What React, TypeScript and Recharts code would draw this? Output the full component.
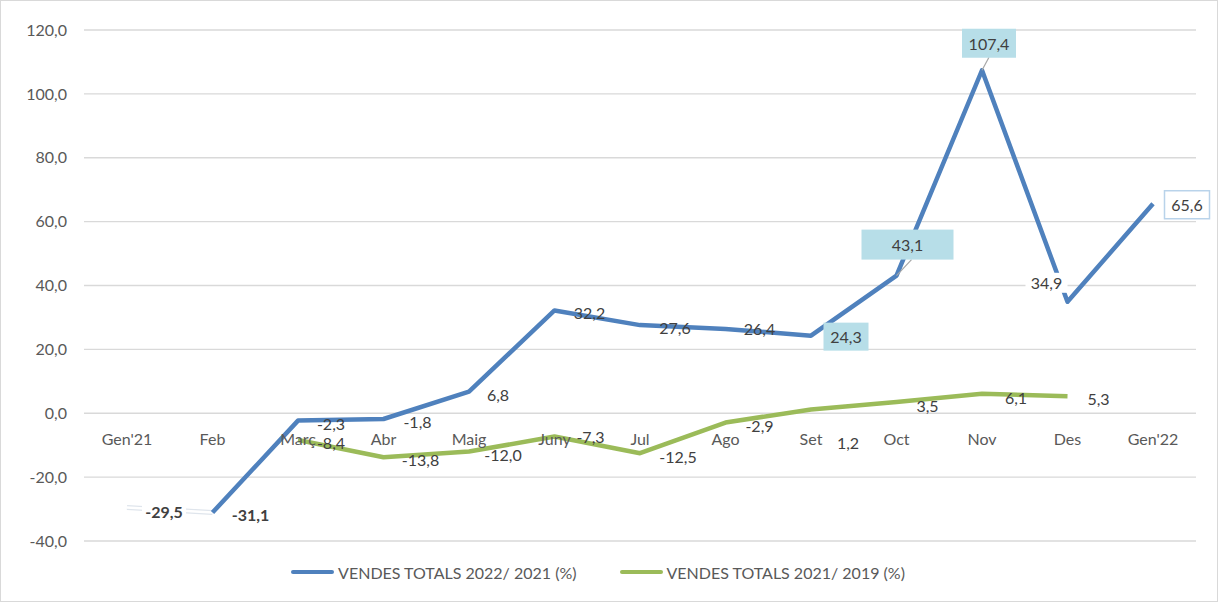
import React from 'react';
import { LineChart, Line, XAxis, YAxis, CartesianGrid, LabelList, Legend } from 'recharts';

const categories = ["Gen'21", 'Feb', 'Març', 'Abr', 'Maig', 'Juny', 'Jul', 'Ago', 'Set', 'Oct', 'Nov', 'Des', "Gen'22"];
const vendes2022vs2021: (number | null)[] = [-29.5, -31.1, -2.3, -1.8, 6.8, 32.2, 27.6, 26.4, 24.3, 43.1, 107.4, 34.9, 65.6];
const vendes2021vs2019: (number | null)[] = [null, null, -8.4, -13.8, -12.0, -7.3, -12.5, -2.9, 1.2, 3.5, 6.1, 5.3, null];
const yTicks = [-40, -20, 0, 20, 40, 60, 80, 100, 120];
const seriesNames = ['VENDES TOTALS 2022/ 2021 (%)', 'VENDES TOTALS 2021/ 2019 (%)'];

const BLUE = '#4f81bd';
const GREEN = '#9bbb59';
const FONT = 'Lato, "Open Sans", sans-serif';
const AXIS_TEXT = '#595959';
const LABEL_TEXT = '#404040';
const BOX_FILL = '#b7dee8';

const data = categories.map((cat, i) => ({
  cat,
  blue: i >= 1 ? vendes2022vs2021[i] : null,
  blueStart: i <= 1 ? vendes2022vs2021[i] : null,
  green: vendes2021vs2019[i],
  axis: 0,
}));

const fmt = (v: number) => v.toFixed(1).replace('.', ',');

type LabelLayout = {
  dx: number;
  dy: number;
  bold?: boolean;
  box?: 'fill' | 'outline' | 'white';
  w?: number;
  h?: number;
  leader?: [number, number];
} | null;

// label placement (style only, not data)
const blueStartLayout: LabelLayout[] = [{ dx: 37, dy: 4, bold: true, box: 'white', w: 44, h: 20 }, null];
const blueLayout: LabelLayout[] = [
  null,
  { dx: 38, dy: 2, bold: true },
  { dx: 33, dy: 3 },
  { dx: 34, dy: 3 },
  { dx: 29, dy: 3 },
  { dx: 35, dy: 2 },
  { dx: 35, dy: 2 },
  { dx: 34, dy: 0 },
  { dx: 35, dy: 1, box: 'fill', w: 45, h: 28 },
  { dx: 11, dy: -31, box: 'fill', w: 92, h: 30, leader: [4, 15] },
  { dx: 7, dy: -27, box: 'fill', w: 54, h: 29, leader: [0, 14] },
  { dx: -21, dy: -19, box: 'white', w: 42, h: 20 },
  { dx: 34, dy: 1, box: 'outline', w: 45, h: 28 },
];
const greenLayout: LabelLayout[] = [
  null,
  null,
  { dx: 33, dy: 2 },
  { dx: 37, dy: 2 },
  { dx: 34, dy: 3 },
  { dx: 36, dy: 0 },
  { dx: 38, dy: 3 },
  { dx: 34, dy: 3 },
  { dx: 37, dy: 33 },
  { dx: 31, dy: 3 },
  { dx: 34, dy: 4 },
  { dx: 31, dy: 2 },
  null,
];

const makeLabel = (layout: LabelLayout[]) => (props: any) => {
  const { x, y, value, index } = props;
  if (value == null || x == null || y == null || Number.isNaN(y)) return null;
  const L = layout[index];
  if (!L) return null;
  const cx = x + L.dx;
  const cy = y + L.dy;
  const w = L.w || 40;
  const h = L.h || 24;
  let rect = null;
  if (L.box === 'fill') rect = <rect x={cx - w / 2} y={cy - h / 2} width={w} height={h} fill={BOX_FILL} />;
  if (L.box === 'outline')
    rect = <rect x={cx - w / 2} y={cy - h / 2} width={w} height={h} fill="#ffffff" stroke="#b9d3ea" strokeWidth={1.5} />;
  if (L.box === 'white') rect = <rect x={cx - w / 2} y={cy - h / 2} width={w} height={h} fill="#ffffff" />;
  return (
    <g key={`lbl-${index}`}>
      {L.leader && <line x1={x} y1={y} x2={cx + L.leader[0]} y2={cy + L.leader[1]} stroke="#a6a6a6" strokeWidth={1.2} />}
      {rect}
      <text
        x={cx}
        y={cy}
        textAnchor="middle"
        dominantBaseline="central"
        fontFamily={FONT}
        fontSize={16}
        fontWeight={L.bold ? 700 : 400}
        fill={LABEL_TEXT}
      >
        {fmt(Number(value))}
      </text>
    </g>
  );
};

const categoryLabel = (props: any) => {
  const { x, y, index } = props;
  if (x == null || y == null) return null;
  return (
    <text
      key={`cat-${index}`}
      x={x}
      y={y + 25}
      textAnchor="middle"
      dominantBaseline="central"
      fontFamily={FONT}
      fontSize={16}
      fill={AXIS_TEXT}
    >
      {categories[index]}
    </text>
  );
};

const LegendContent = () => (
  <div
    style={{
      display: 'flex',
      justifyContent: 'center',
      alignItems: 'center',
      height: 24,
      fontFamily: FONT,
      fontSize: 16,
      color: AXIS_TEXT,
      whiteSpace: 'nowrap',
    }}
  >
    {[BLUE, GREEN].map((c, i) => (
      <div key={i} style={{ display: 'flex', alignItems: 'center', marginRight: i === 0 ? 43 : 0 }}>
        <div style={{ width: 43, height: 4.5, background: c, marginRight: 4, borderRadius: 2 }} />
        <span>{seriesNames[i]}</span>
      </div>
    ))}
  </div>
);

export default function App() {
  return (
    <div style={{ position: 'absolute', left: 0, top: 0, width: 1218, height: 602, background: '#ffffff' }}>
      <LineChart width={1218} height={602} data={data} margin={{ top: 30, right: 22, left: 0, bottom: 37 }}>
        <CartesianGrid vertical={false} stroke="#d9d9d9" strokeWidth={1.3} />
        <XAxis dataKey="cat" hide padding={{ left: 43, right: 43 }} />
        <YAxis
          domain={[-40, 120]}
          ticks={yTicks}
          width={84}
          axisLine={false}
          tickLine={false}
          tickSize={0}
          tickMargin={17}
          tickFormatter={(v: number) => fmt(v)}
          tick={{ fill: AXIS_TEXT, fontSize: 16, fontFamily: FONT }}
          interval={0}
          allowDataOverflow
        />
        <Legend verticalAlign="bottom" content={<LegendContent />} wrapperStyle={{ bottom: 18 }} />
        <Line dataKey="axis" stroke="none" dot={false} activeDot={false} isAnimationActive={false} legendType="none">
          <LabelList dataKey="axis" content={categoryLabel} />
        </Line>
        <Line dataKey="blueStart" stroke="#dfe5ec" strokeWidth={5} dot={false} activeDot={false} isAnimationActive={false} legendType="none" />
        <Line dataKey="blueStart" stroke="#ffffff" strokeWidth={2.5} dot={false} activeDot={false} isAnimationActive={false} legendType="none">
          <LabelList dataKey="blueStart" content={makeLabel(blueStartLayout)} />
        </Line>
        <Line
          dataKey="blue"
          name={seriesNames[0]}
          stroke={BLUE}
          strokeWidth={4.5}
          strokeLinejoin="round"
          dot={false}
          activeDot={false}
          isAnimationActive={false}
        >
          <LabelList dataKey="blue" content={makeLabel(blueLayout)} />
        </Line>
        <Line
          dataKey="green"
          name={seriesNames[1]}
          stroke={GREEN}
          strokeWidth={4.5}
          strokeLinejoin="round"
          dot={false}
          activeDot={false}
          isAnimationActive={false}
        >
          <LabelList dataKey="green" content={makeLabel(greenLayout)} />
        </Line>
      </LineChart>
      <div
        style={{
          position: 'absolute',
          left: 0,
          top: 0,
          width: 1218,
          height: 602,
          border: '1px solid #d9d9d9',
          boxSizing: 'border-box',
          pointerEvents: 'none',
        }}
      />
    </div>
  );
}
